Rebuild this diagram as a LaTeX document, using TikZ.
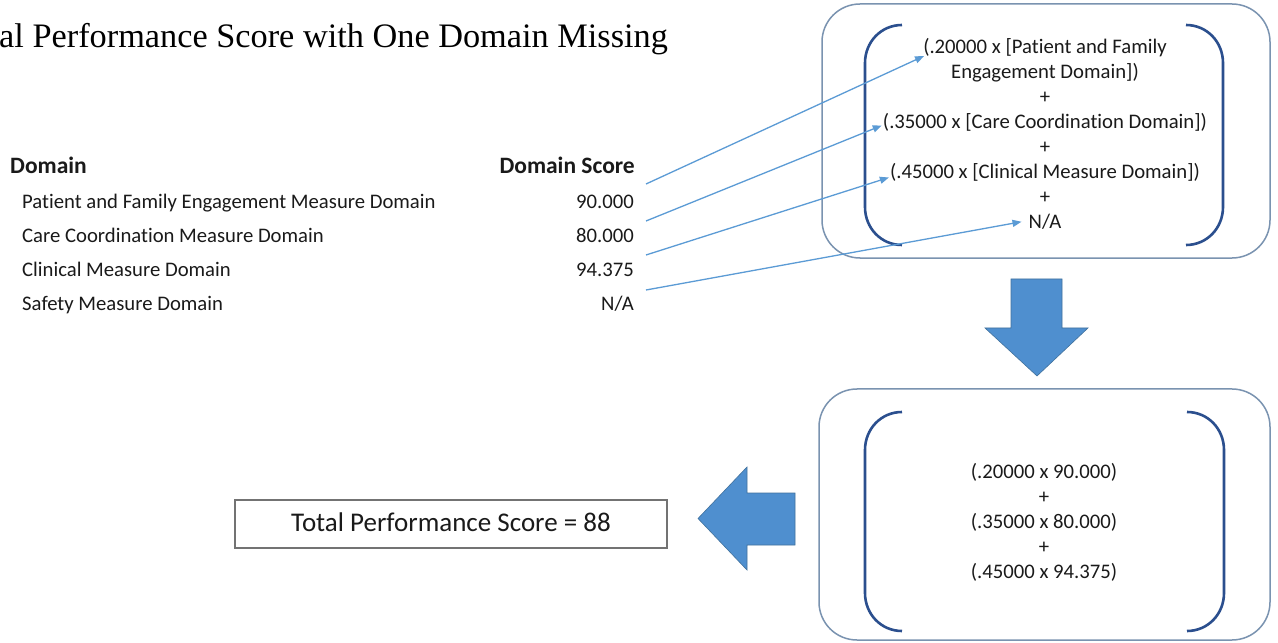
\documentclass[tikz,border=0pt]{standalone}
\usepackage{fontspec}
\setmainfont{Carlito}[Ligatures=NoCommon]
\newfontfamily\titlefont{Liberation Serif}
\usetikzlibrary{arrows.meta}
\definecolor{linkblue}{HTML}{5B9BD5}
\definecolor{brk}{HTML}{2B4F8E}
\definecolor{boxline}{HTML}{7A93B0}
\definecolor{blockfill}{HTML}{4F8FCF}
\definecolor{blockline}{HTML}{41719C}
\definecolor{txt}{HTML}{1A1A1A}
\begin{document}
\begin{tikzpicture}[x=1bp,y=-1bp,
  body/.style={font=\fontsize{20.7bp}{25bp}\selectfont, text=txt, inner sep=0pt},
  head/.style={font=\fontsize{23.5bp}{28bp}\selectfont\bfseries, text=txt, inner sep=0pt},
  link/.style={draw=linkblue, line width=1.3bp, -{Triangle[length=9bp,width=7bp]}},
  bracket/.style={draw=brk, line width=2.6bp},
  roundbox/.style={draw=boxline, line width=1.5bp, rounded corners=38bp, inner sep=0pt},
  blockarrow/.style={fill=blockfill, draw=blockline, line width=0.6bp},
  totalbox/.style={draw=black!55, line width=1.2bp, inner sep=0pt, font=\fontsize{27bp}{32bp}\selectfont, text=txt, text height=17.5bp, text depth=3.5bp}]
\useasboundingbox (0,0) rectangle (1278,643);
\fill[white] (0,0) rectangle (1278,643);

% title
\node[anchor=base west, inner sep=0pt, text=black, font=\titlefont\fontsize{34.3bp}{40bp}\selectfont] (title) at (-1,48) {al Performance Score with One Domain Missing};

% table
\node[head, anchor=base west] (hdom) at (10,174) {Domain};
\node[head, anchor=base east] (hscore) at (635,174) {Domain Score};
\node[body, anchor=base west] (d1) at (22,209) {Patient and Family Engagement Measure Domain};
\node[body, anchor=base west] (d2) at (22,243) {Care Coordination Measure Domain};
\node[body, anchor=base west] (d3) at (22,277) {Clinical Measure Domain};
\node[body, anchor=base west] (d4) at (22,311) {Safety Measure Domain};
\node[body, anchor=base east] (v1) at (634,209) {90.000};
\node[body, anchor=base east] (v2) at (634,243) {80.000};
\node[body, anchor=base east] (v3) at (634,277) {94.375};
\node[body, anchor=base east] (v4) at (634,311) {N/A};

% top box
\node[roundbox, minimum width=448bp, minimum height=254bp] (topbox) at (1046,131) {};
\draw[bracket] (902,25) .. controls (881,25) and (865,42) .. (865,63) -- (865,207) .. controls (865,228) and (881,245) .. (902,245);
\draw[bracket] (1186,25) .. controls (1207,25) and (1223,42) .. (1223,63) -- (1223,207) .. controls (1223,228) and (1207,245) .. (1186,245);
\node[body, anchor=base] (f1) at (1045,53.5) {(.20000 x [Patient and Family};
\node[body, anchor=base] (f2) at (1045,78.5) {Engagement Domain])};
\node[body, anchor=base] (f3) at (1045,103.5) {+};
\node[body, anchor=base] (f4) at (1045,128.5) {(.35000 x [Care Coordination Domain])};
\node[body, anchor=base] (f5) at (1045,153.5) {+};
\node[body, anchor=base] (f6) at (1045,178.5) {(.45000 x [Clinical Measure Domain])};
\node[body, anchor=base] (f7) at (1045,203.5) {+};
\node[body, anchor=base] (f8) at (1045,228.5) {N/A};

% connectors
\coordinate (s1) at (646,184);
\coordinate (s2) at (646,221);
\coordinate (s3) at (646,255);
\coordinate (s4) at (646,290);
\draw[link] (s1) -- ([xshift=1bp,yshift=-2.5bp]f1.base west);
\draw[link] (s2) -- ([xshift=-1bp,yshift=3bp]f4.base west);
\draw[link] (s3) -- ([xshift=-1bp,yshift=1bp]f6.base west);
\draw[link] (s4) -- ([xshift=-7bp]f8.west);

% down block arrow
\draw[blockarrow] (1011,279) -- (1062,279) -- (1062,328) -- (1088,328) -- (1037,376) -- (985,328) -- (1011,328) -- cycle;

% bottom box
\node[roundbox, minimum width=451bp, minimum height=251bp] (botbox) at (1044.5,514.5) {};
\draw[bracket] (902,412) .. controls (881,412) and (865,429) .. (865,450) -- (865,593) .. controls (865,614) and (881,631) .. (902,631);
\draw[bracket] (1187,412) .. controls (1208,412) and (1224,429) .. (1224,450) -- (1224,593) .. controls (1224,614) and (1208,631) .. (1187,631);
\node[body, anchor=base] (g1) at (1044,478.5) {(.20000 x 90.000)};
\node[body, anchor=base] (g2) at (1044,503.5) {+};
\node[body, anchor=base] (g3) at (1044,528.5) {(.35000 x 80.000)};
\node[body, anchor=base] (g4) at (1044,553.5) {+};
\node[body, anchor=base] (g5) at (1044,578.5) {(.45000 x 94.375)};

% left block arrow
\draw[blockarrow] (795,493) -- (747,493) -- (747,467) -- (698,518.5) -- (747,570) -- (747,545) -- (795,545) -- cycle;

% total box
\node[totalbox, minimum width=432bp, minimum height=48bp] (total) at (451,524) {Total Performance Score = 88};
\end{tikzpicture}
\end{document}
